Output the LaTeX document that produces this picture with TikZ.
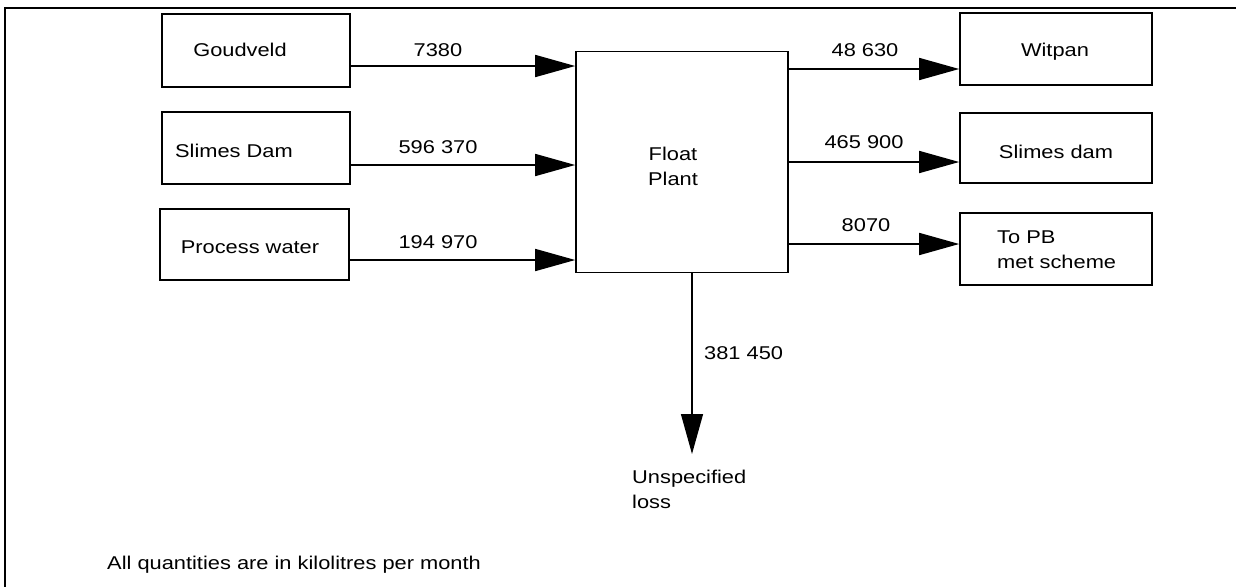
\documentclass[tikz,border=0pt]{standalone}
\usepackage{fontspec}
\setmainfont{Liberation Sans}[FakeStretch=1.18]
\usetikzlibrary{arrows.meta}
\tikzset{
  box/.style={draw, line width=1.6pt, inner sep=0pt},
  txt/.style={inner sep=0pt, font=\fontsize{18.5}{25}\selectfont, align=left},
  flow/.style={line width=1.6pt, -{Triangle[length=40pt,width=22pt]}},
  framel/.style={line width=1.4pt}
}
\begin{document}
\begin{tikzpicture}[x=1pt,y=-1pt]
\useasboundingbox (0,0) rectangle (1236,587);
% frame
\coordinate (ftl) at (5,8);
\coordinate (ftr) at (1236,8);
\coordinate (fbl) at (5,587);
\draw[framel] (ftr) -- (ftl) -- (fbl);
% source boxes
\node[box, minimum width=188pt, minimum height=73pt] (goud) at (256,50.5) {};
\node[box, minimum width=188pt, minimum height=72pt] (slimes) at (256,148) {};
\node[box, minimum width=189pt, minimum height=71pt] (proc) at (254.5,244.5) {};
\node[txt] at (240,50) {Goudveld};
\node[txt] at (234,151) {Slimes Dam};
\node[txt] at (250,247) {Process water};
% float plant
\node[box, minimum width=212pt, minimum height=221pt] (float) at (682,162) {};
\node[txt, align=center] at (673,166) {Float\\Plant};
% destination boxes
\node[box, minimum width=192pt, minimum height=72pt] (wit) at (1056,49) {};
\node[box, minimum width=192pt, minimum height=70pt] (sdam) at (1056,148) {};
\node[box, minimum width=192pt, minimum height=72pt] (topb) at (1056,249) {};
\node[txt] at (1055,52) {Witpan};
\node[txt] at (1056,152) {Slimes dam};
\node[txt, anchor=west] at (997,250) {To PB\\met scheme};
% loss
\node[txt, anchor=north west] (loss) at (632,470) {Unspecified\\loss};
\coordinate (losstip) at (692,454);
% inflows
\draw[flow] (goud.east |- 0,66) -- (float.west |- 0,66);
\draw[flow] (slimes.east |- 0,165) -- (float.west |- 0,165);
\draw[flow] (proc.east |- 0,260) -- (float.west |- 0,260);
\node[txt] at (438,50) {7380};
\node[txt] at (438,147) {596 370};
\node[txt] at (438,242) {194 970};
% outflows
\draw[flow] (float.east |- 0,69) -- (wit.west |- 0,69);
\draw[flow] (float.east |- 0,162) -- (sdam.west |- 0,162);
\draw[flow] (float.east |- 0,244) -- (topb.west |- 0,244);
\node[txt] at (865,50) {48 630};
\node[txt] at (864,142) {465 900};
\node[txt] at (866,225) {8070};
% down flow
\draw[flow, line width=1.3pt] (float.south -| losstip) -- (losstip);
\node[txt, anchor=west] at (704,353) {381 450};
% note
\node[txt, anchor=west] at (107,565) {All quantities are in kilolitres per month};
\end{tikzpicture}
\end{document}
